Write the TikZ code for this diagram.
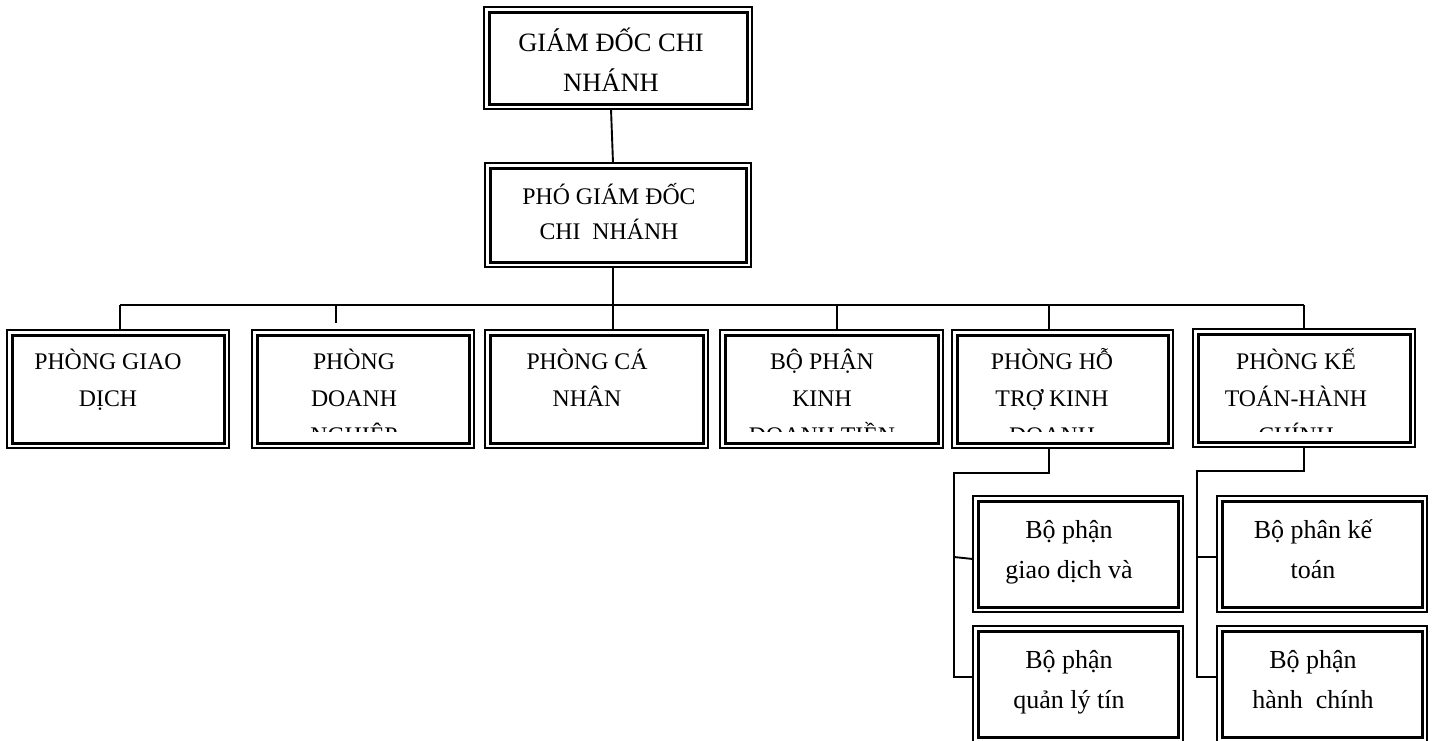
\documentclass[tikz,border=0pt]{standalone}
\usepackage{fontspec}
\setmainfont{Liberation Serif}
\usetikzlibrary{calc}
\tikzset{
  outerbox/.style={draw, line width=1.8pt, rectangle, inner sep=0pt, outer sep=0pt},
  innerline/.style={draw, line width=3pt},
  conn/.style={draw, line width=1.9pt},
  txtbig/.style={align=center, anchor=base, inner sep=0pt, font=\fontsize{26.5}{40}\selectfont},
  txtmid/.style={align=center, anchor=base, inner sep=0pt, font=\fontsize{23.8}{35}\selectfont},
  txtrow/.style={align=center, anchor=base, inner sep=0pt, font=\fontsize{23.8}{37}\selectfont},
  txtsub/.style={align=center, anchor=base, inner sep=0pt, font=\fontsize{26}{40}\selectfont},
}
\newcommand\dblbox[5]{% name, cx, cy, w, h
  \node[outerbox, minimum width=#4, minimum height=#5] (#1) at (#2,#3) {};
  \draw[innerline] ($(#1.north west)+(5,5)$) rectangle ($(#1.south east)+(-5,-5)$);
}
\begin{document}
\begin{tikzpicture}[x=1pt,y=-1pt]
\useasboundingbox (0,0) rectangle (1432,740);
\clip (0,0) rectangle (1432,740);
\fill[white] (0,0) rectangle (1432,740);

% top boxes
\dblbox{gd}{618}{58}{268}{102}
\node[txtbig] (tgd) at (611,91) {GIÁM ĐỐC CHI\\NHÁNH};
\dblbox{pgd}{618}{215}{266}{104}
\node[txtmid] (tpgd) at (609,239) {PHÓ GIÁM ĐỐC\\CHI\ \ NHÁNH};

% row boxes
\dblbox{b1}{118}{389}{222}{118}
\dblbox{b2}{363}{389}{222}{118}
\dblbox{b3}{596.5}{389}{223}{118}
\dblbox{b4}{831.5}{389}{223}{118}
\dblbox{b5}{1062.5}{389}{221}{118}
\dblbox{b6}{1304}{388}{222}{118}

\begin{scope}
\clip (0,330) rectangle (1432,431);
\node[txtrow] (t1) at (108,406) {PHÒNG GIAO\\DỊCH};
\node[txtrow] (t2) at (354,443) {PHÒNG\\DOANH\\NGHIỆP};
\node[txtrow] (t3) at (587,406) {PHÒNG CÁ\\NHÂN};
\node[txtrow] (t4) at (822,443) {BỘ PHẬN\\KINH\\DOANH TIỀN};
\node[txtrow] (t5) at (1052,443) {PHÒNG HỖ\\TRỢ KINH\\DOANH};
\node[txtrow] (t6) at (1296,443) {PHÒNG KẾ\\TOÁN-HÀNH\\CHÍNH};
\end{scope}

% sub boxes
\dblbox{sA}{1078}{554}{210}{116}
\dblbox{sB}{1078}{684}{210}{116}
\dblbox{sC}{1322}{554}{210}{116}
\dblbox{sD}{1322}{684}{210}{116}
\node[txtsub] (tA) at (1069,578) {Bộ phận\\giao dịch và};
\node[txtsub] (tB) at (1069,708) {Bộ phận\\quản lý tín};
\node[txtsub] (tC) at (1313,578) {Bộ phân kế\\toán};
\node[txtsub] (tD) at (1313,708) {Bộ phận\\hành\ \ chính};

% connectors
\coordinate (bus) at (613,305);
\draw[conn] ($(gd.south)+(-7,0)$) -- ($(pgd.north)+(-5,0)$);
\draw[conn] ($(pgd.south)+(-5,0)$) -- (bus);
\draw[conn] ([xshift=2pt]b1.north |- bus) -- (b6.north |- bus);
\draw[conn] ([xshift=2pt]b1.north) -- ([xshift=2pt]b1.north |- bus);
\draw[conn] ([xshift=-27pt,yshift=7pt]b2.north) -- ([xshift=-27pt]b2.north |- bus);
\draw[conn] ([xshift=16.5pt]b3.north) -- ([xshift=16.5pt]b3.north |- bus);
\draw[conn] ([xshift=5.5pt]b4.north) -- ([xshift=5.5pt]b4.north |- bus);
\draw[conn] ([xshift=-13.5pt]b5.north) -- ([xshift=-13.5pt]b5.north |- bus);
\draw[conn] (b6.north) -- (b6.north |- bus);

\coordinate (k5) at (954,473);
\draw[conn] ([xshift=-13.5pt]b5.south) |- (k5) -- ($(k5 |- sB.west)+(0,-7)$) -- ($(sB.west)+(0,-7)$);
\draw[conn] ($(k5 |- sA.west)+(0,3)$) -- ($(sA.west)+(0,5)$);
\coordinate (k6) at (1197,471);
\draw[conn] (b6.south) |- (k6) -- ($(k6 |- sD.west)+(0,-7)$) -- ($(sD.west)+(0,-7)$);
\draw[conn] ($(k6 |- sC.west)+(0,3)$) -- ($(sC.west)+(0,3)$);
\end{tikzpicture}
\end{document}
